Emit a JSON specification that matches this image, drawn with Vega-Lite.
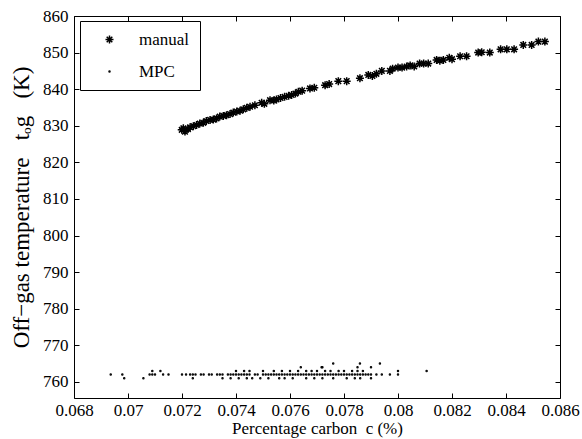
{
  "$schema": "https://vega.github.io/schema/vega-lite/v6.json",
  "width": 486,
  "height": 382,
  "autosize": "none",
  "padding": {"left": 74, "top": 16, "right": 22, "bottom": 41},
  "background": "white",
  "config": {
    "view": {"stroke": "black", "strokeWidth": 1},
    "font": "Liberation Serif",
    "axis": {
      "grid": false,
      "domain": false,
      "ticks": true,
      "tickColor": "black",
      "tickSize": 5,
      "tickWidth": 1,
      "tickOpacity": 1,
      "offset": -5,
      "zindex": 1,
      "labelOverlap": false,
      "labelFlush": false,
      "labelFont": "Liberation Serif",
      "labelFontSize": 17,
      "labelColor": "black",
      "titleFont": "Liberation Serif",
      "titleFontSize": 17,
      "titleFontWeight": "normal",
      "titleColor": "black"
    },
    "legend": {
      "labelFont": "Liberation Serif",
      "labelFontSize": 17,
      "labelColor": "black"
    }
  },
  "datasets": {
    "manual": [
      {"c": 0.07199, "t": 828.9}, {"c": 0.07205, "t": 829.3}, {"c": 0.07211, "t": 828.4}, {"c": 0.07222, "t": 829.1},
      {"c": 0.0723, "t": 829.6}, {"c": 0.07242, "t": 829.9}, {"c": 0.07254, "t": 830.2}, {"c": 0.07266, "t": 830.6},
      {"c": 0.07279, "t": 830.8}, {"c": 0.0729, "t": 831.3}, {"c": 0.07304, "t": 831.6}, {"c": 0.07316, "t": 831.7},
      {"c": 0.07328, "t": 832.0}, {"c": 0.0734, "t": 832.5}, {"c": 0.07353, "t": 832.7}, {"c": 0.07365, "t": 832.9},
      {"c": 0.07378, "t": 833.2}, {"c": 0.0739, "t": 833.6}, {"c": 0.07403, "t": 833.9}, {"c": 0.07415, "t": 834.1},
      {"c": 0.07427, "t": 834.5}, {"c": 0.0744, "t": 834.9}, {"c": 0.07452, "t": 835.2}, {"c": 0.0747, "t": 835.6},
      {"c": 0.07495, "t": 836.3}, {"c": 0.07505, "t": 836.0}, {"c": 0.07526, "t": 837.0}, {"c": 0.0754, "t": 836.9},
      {"c": 0.0755, "t": 837.2}, {"c": 0.07565, "t": 837.6}, {"c": 0.0758, "t": 837.9}, {"c": 0.07595, "t": 838.2},
      {"c": 0.07606, "t": 838.4}, {"c": 0.0762, "t": 838.8}, {"c": 0.07631, "t": 839.3}, {"c": 0.07645, "t": 839.6},
      {"c": 0.07674, "t": 840.2}, {"c": 0.0769, "t": 840.4}, {"c": 0.0773, "t": 841.1}, {"c": 0.07745, "t": 841.4},
      {"c": 0.07779, "t": 842.2}, {"c": 0.0781, "t": 842.2}, {"c": 0.07859, "t": 843.0}, {"c": 0.0789, "t": 843.9},
      {"c": 0.07905, "t": 843.6}, {"c": 0.0792, "t": 844.2}, {"c": 0.0794, "t": 845.0}, {"c": 0.0797, "t": 845.0},
      {"c": 0.0798, "t": 845.6}, {"c": 0.08, "t": 845.9}, {"c": 0.08015, "t": 845.9}, {"c": 0.08032, "t": 846.2},
      {"c": 0.08045, "t": 846.5}, {"c": 0.0806, "t": 846.2}, {"c": 0.0808, "t": 847.0}, {"c": 0.08095, "t": 847.0},
      {"c": 0.08112, "t": 847.0}, {"c": 0.08143, "t": 848.0}, {"c": 0.08155, "t": 847.8}, {"c": 0.08168, "t": 848.0},
      {"c": 0.0819, "t": 848.6}, {"c": 0.082, "t": 848.2}, {"c": 0.0823, "t": 849.0}, {"c": 0.08254, "t": 849.0},
      {"c": 0.08297, "t": 850.0}, {"c": 0.0831, "t": 850.1}, {"c": 0.0834, "t": 850.0}, {"c": 0.0838, "t": 850.9},
      {"c": 0.08403, "t": 850.9}, {"c": 0.0843, "t": 850.9}, {"c": 0.08464, "t": 852.1}, {"c": 0.08495, "t": 852.1},
      {"c": 0.0852, "t": 853.0}, {"c": 0.08544, "t": 853.0}
    ],
    "mpc": [
      {"c": 0.06936, "t": 762}, {"c": 0.06979, "t": 762}, {"c": 0.0708, "t": 762}, {"c": 0.0709, "t": 762},
      {"c": 0.071, "t": 762}, {"c": 0.0713, "t": 762}, {"c": 0.0715, "t": 762}, {"c": 0.072, "t": 762},
      {"c": 0.07215, "t": 762}, {"c": 0.0723, "t": 762}, {"c": 0.0724, "t": 762}, {"c": 0.0725, "t": 762},
      {"c": 0.0727, "t": 762}, {"c": 0.0728, "t": 762}, {"c": 0.073, "t": 762}, {"c": 0.0731, "t": 762},
      {"c": 0.0733, "t": 762}, {"c": 0.0734, "t": 762}, {"c": 0.0735, "t": 762}, {"c": 0.0737, "t": 762},
      {"c": 0.0738, "t": 762}, {"c": 0.0739, "t": 762}, {"c": 0.074, "t": 762}, {"c": 0.0741, "t": 762},
      {"c": 0.0742, "t": 762}, {"c": 0.0743, "t": 762}, {"c": 0.0744, "t": 762}, {"c": 0.0745, "t": 762},
      {"c": 0.0747, "t": 762}, {"c": 0.0748, "t": 762}, {"c": 0.075, "t": 762}, {"c": 0.0751, "t": 762},
      {"c": 0.0752, "t": 762}, {"c": 0.0753, "t": 762}, {"c": 0.0754, "t": 762}, {"c": 0.0755, "t": 762},
      {"c": 0.0756, "t": 762}, {"c": 0.0757, "t": 762}, {"c": 0.0758, "t": 762}, {"c": 0.0759, "t": 762},
      {"c": 0.076, "t": 762}, {"c": 0.0761, "t": 762}, {"c": 0.0762, "t": 762}, {"c": 0.0763, "t": 762},
      {"c": 0.0764, "t": 762}, {"c": 0.0765, "t": 762}, {"c": 0.0766, "t": 762}, {"c": 0.0767, "t": 762},
      {"c": 0.0768, "t": 762}, {"c": 0.0769, "t": 762}, {"c": 0.077, "t": 762}, {"c": 0.0771, "t": 762},
      {"c": 0.0772, "t": 762}, {"c": 0.0773, "t": 762}, {"c": 0.0774, "t": 762}, {"c": 0.0775, "t": 762},
      {"c": 0.0776, "t": 762}, {"c": 0.0777, "t": 762}, {"c": 0.0778, "t": 762}, {"c": 0.0779, "t": 762},
      {"c": 0.078, "t": 762}, {"c": 0.0781, "t": 762}, {"c": 0.0782, "t": 762}, {"c": 0.0783, "t": 762},
      {"c": 0.0784, "t": 762}, {"c": 0.0785, "t": 762}, {"c": 0.0786, "t": 762}, {"c": 0.0787, "t": 762},
      {"c": 0.0788, "t": 762}, {"c": 0.0789, "t": 762}, {"c": 0.079, "t": 762}, {"c": 0.0792, "t": 762},
      {"c": 0.0794, "t": 762}, {"c": 0.0797, "t": 762}, {"c": 0.08, "t": 762},
      {"c": 0.06986, "t": 761}, {"c": 0.07057, "t": 761}, {"c": 0.0724, "t": 761}, {"c": 0.0735, "t": 761},
      {"c": 0.0738, "t": 761}, {"c": 0.0741, "t": 761}, {"c": 0.0744, "t": 761}, {"c": 0.0746, "t": 761},
      {"c": 0.0749, "t": 761}, {"c": 0.0752, "t": 761}, {"c": 0.0756, "t": 761}, {"c": 0.0758, "t": 761},
      {"c": 0.0761, "t": 761}, {"c": 0.0766, "t": 761}, {"c": 0.0769, "t": 761}, {"c": 0.0772, "t": 761},
      {"c": 0.0776, "t": 761}, {"c": 0.0781, "t": 761}, {"c": 0.0784, "t": 761}, {"c": 0.0786, "t": 761},
      {"c": 0.079, "t": 761},
      {"c": 0.0709, "t": 763}, {"c": 0.0712, "t": 763}, {"c": 0.074, "t": 763}, {"c": 0.0743, "t": 763},
      {"c": 0.0745, "t": 763}, {"c": 0.075, "t": 763}, {"c": 0.0754, "t": 763}, {"c": 0.0757, "t": 763},
      {"c": 0.076, "t": 763}, {"c": 0.0763, "t": 763}, {"c": 0.0766, "t": 763}, {"c": 0.0768, "t": 763},
      {"c": 0.077, "t": 763}, {"c": 0.0773, "t": 763}, {"c": 0.0775, "t": 763}, {"c": 0.0778, "t": 763},
      {"c": 0.078, "t": 763}, {"c": 0.0783, "t": 763}, {"c": 0.0785, "t": 763}, {"c": 0.0787, "t": 763},
      {"c": 0.08, "t": 763}, {"c": 0.08106, "t": 763},
      {"c": 0.0764, "t": 764}, {"c": 0.07717, "t": 764}, {"c": 0.0772, "t": 764}, {"c": 0.0785, "t": 764},
      {"c": 0.079, "t": 764},
      {"c": 0.0776, "t": 765}, {"c": 0.07859, "t": 765}, {"c": 0.07933, "t": 765}
    ]
  },
  "layer": [
    {
      "data": {"name": "manual"},
      "transform": [{"calculate": "'manual'", "as": "series"}],
      "mark": {"type": "point", "fill": "black", "stroke": "black", "strokeWidth": 1.5, "opacity": 1},
      "encoding": {
        "x": {"field": "c", "type": "quantitative", "scale": {"domain": [0.068, 0.086], "nice": false, "zero": false},
          "axis": {"orient": "bottom", "values": [0.068, 0.07, 0.072, 0.074, 0.076, 0.078, 0.08, 0.082, 0.084, 0.086], "format": ".3~f", "title": "Percentage carbon\u00a0\u00a0c\u00a0(%)", "labelPadding": 4, "titlePadding": 2}},
        "y": {"field": "t", "type": "quantitative", "scale": {"domain": [755.6, 860], "nice": false, "zero": false},
          "axis": {"orient": "left", "values": [760, 770, 780, 790, 800, 810, 820, 830, 840, 850, 860], "title": "Off−gas\u00a0temperature\u00a0\u00a0\u00a0tₒg\u00a0\u00a0\u00a0(K)", "titleFontSize": 23, "labelPadding": 6, "titlePadding": 9}},
        "shape": {"field": "series", "type": "nominal",
          "scale": {"domain": ["manual", "MPC"], "range": ["M-1,0L1,0M0,-1L0,1M-0.7,-0.7L0.7,0.7M-0.7,0.7L0.7,-0.7", "circle"]},
          "legend": {"title": null, "orient": "none", "legendX": 6, "legendY": 5, "padding": 10, "rowPadding": 14, "strokeColor": "black", "fillColor": "white", "symbolOffset": 11, "labelOffset": 21, "symbolFillColor": "black", "symbolStrokeColor": "black", "symbolStrokeWidth": 1.5, "cornerRadius": 0, "labelExpr": "datum.label + '\u00a0\u00a0\u00a0\u00a0\u00a0\u00a0'"}},
        "size": {"field": "series", "type": "nominal", "scale": {"domain": ["manual", "MPC"], "range": [64, 1]}}
      }
    },
    {
      "data": {"name": "mpc"},
      "transform": [{"calculate": "'MPC'", "as": "series"}],
      "mark": {"type": "point", "fill": "black", "stroke": "black", "strokeWidth": 1.5, "opacity": 1},
      "encoding": {
        "x": {"field": "c", "type": "quantitative", "axis": {"orient": "top", "labels": false, "title": null, "values": [0.068, 0.07, 0.072, 0.074, 0.076, 0.078, 0.08, 0.082, 0.084, 0.086]}},
        "y": {"field": "t", "type": "quantitative", "axis": {"orient": "right", "labels": false, "title": null, "values": [760, 770, 780, 790, 800, 810, 820, 830, 840, 850, 860]}},
        "shape": {"field": "series", "type": "nominal"},
        "size": {"field": "series", "type": "nominal"}
      }
    }
  ],
  "resolve": {"axis": {"x": "independent", "y": "independent"}}
}
